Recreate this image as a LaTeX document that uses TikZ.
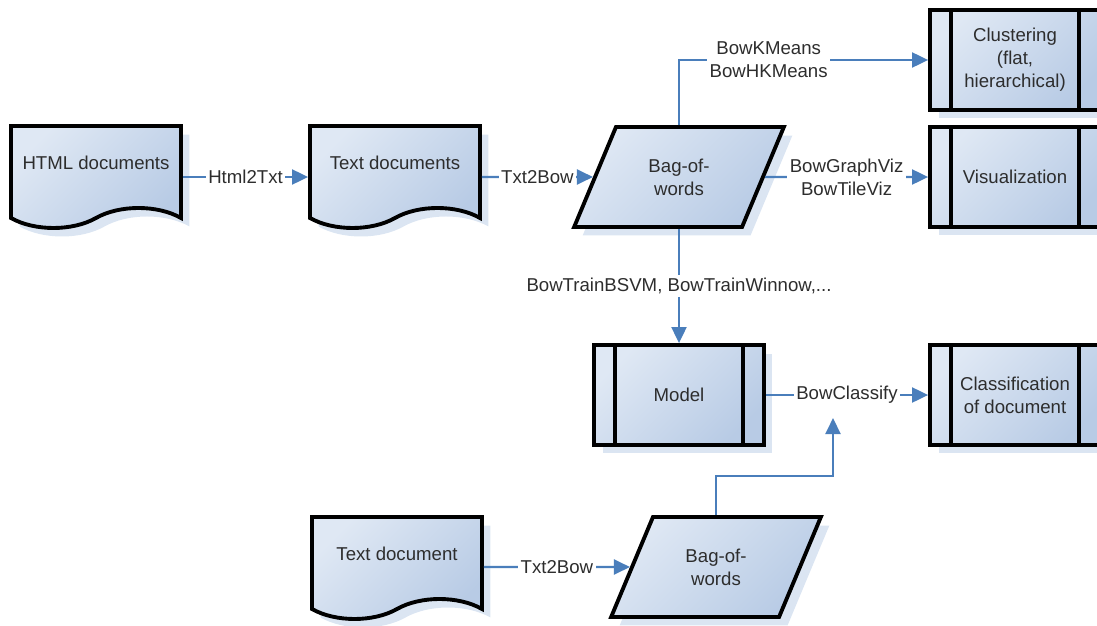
\documentclass[tikz,border=0pt]{standalone}
\usepackage{fontspec}
\setmainfont{Liberation Sans}
\usetikzlibrary{arrows.meta, positioning, calc, shapes.geometric, shapes.symbols, shadows}
\definecolor{flowblue}{RGB}{74, 126, 187}
\definecolor{boxlight}{RGB}{223, 232, 244}
\definecolor{boxdark}{RGB}{184, 203, 229}
\definecolor{shadowblue}{RGB}{219, 229, 242}
\definecolor{txtgray}{RGB}{45, 45, 45}

\begin{document}
\begin{tikzpicture}[x=0.02cm, y=-0.02cm,
          every node/.style={font=\fontsize{10.6}{13}\selectfont,
                     text=txtgray},
          base/.style={draw=black, line width=2.2pt,
                     top color=boxlight, bottom color=boxdark,
                     shading angle=45,
                     drop shadow={shadow xshift=0.17cm,
                       shadow yshift=-0.17cm, fill=shadowblue,
                       opacity=1}},
          docbox/.style={base, tape, tape bend top=none,
                     tape bend bottom=in and out,
                     tape bend height=0.4cm,
                     minimum width=3.4cm, minimum height=2.04cm,
                     text height=8pt, text depth=5pt},
          bagbox/.style={base, trapezium,
                     trapezium left angle=63.4,
                     trapezium right angle=116.6,
                     trapezium stretches=true,
                     minimum width=4.2cm, minimum height=2cm,
                     align=center},
          procbox/.style={base, rectangle,
                     minimum width=3.4cm, minimum height=2cm,
                     align=center,
                     path picture={
                       \draw[line width=2pt]
                         ([xshift=0.42cm]path picture bounding box.north west) --
                         ([xshift=0.42cm]path picture bounding box.south west)
                         ([xshift=-0.42cm]path picture bounding box.north east) --
                         ([xshift=-0.42cm]path picture bounding box.south east);}},
          flow/.style={draw=flowblue, line width=1.15pt,
                     -{Triangle[length=0.32cm, width=0.3cm]}},
          lab/.style={fill=white, inner sep=1.5pt, align=center},
      ]
      \useasboundingbox (0,0) rectangle (1097,625);

      % Shapes
      \node[docbox] (html) at (96,167) {HTML documents};
      \node[docbox] (txt) at (395,167) {Text documents};
      \node[bagbox] (bag) at (679,177) {Bag-of-\\words};
      \node[procbox] (clust) at (1015,60) {Clustering\\(flat,\\hierarchical)};
      \node[procbox] (viz) at (1015,177) {Visualization};
      \node[procbox] (model) at (679,395) {Model};
      \node[procbox] (classif) at (1015,395) {Classification\\of document};
      \node[docbox] (txtone) at (397,558) {Text document};
      \node[bagbox] (bagone) at (716,567) {Bag-of-\\words};
      \coordinate (classin) at (833,418);

      % Connectors
      \draw[flow] (html.east |- bag) -- node[lab] {Html2Txt} (txt.west |- bag);
      \draw[flow] (txt.east |- bag) -- node[lab] {Txt2Bow} (bag);
      \draw[flow] (bag.center |- bag.north) |- node[lab, pos=0.68]
          {BowKMeans\\BowHKMeans} (clust.west);
      \draw[flow] (bag) -- node[lab] {BowGraphViz\\BowTileViz} (viz);
      \draw[flow] (bag.center |- bag.south) -- node[lab]
          {BowTrainBSVM, BowTrainWinnow,...} (model.north);
      \draw[flow] (model) -- node[lab] {BowClassify} (classif);
      \draw[flow] (txtone.east |- bagone) -- node[lab] {Txt2Bow} (bagone);
      \draw[flow] (bagone.center |- bagone.north) -- ++(0,-39) -| (classin);
      \end{tikzpicture}
\end{document}
